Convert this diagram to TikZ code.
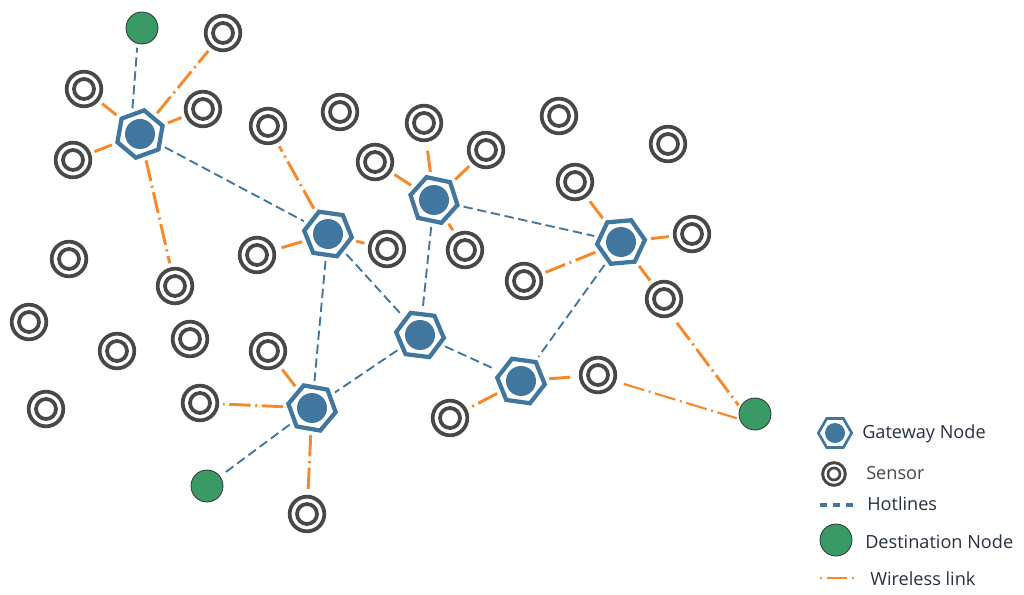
\documentclass[tikz,border=0pt]{standalone}
\usepackage{fontspec}
\setmainfont{Open Sans}
\usetikzlibrary{shapes.geometric}
\definecolor{gwblue}{HTML}{41779F}
\definecolor{destgreen}{HTML}{3A9A66}
\definecolor{senscol}{HTML}{484848}
\definecolor{wlorange}{HTML}{F58A2A}
\definecolor{txtcol}{HTML}{263040}
\tikzset{
  x=0.75pt,y=-0.75pt,
  gatehex/.style={shape=regular polygon,regular polygon sides=6,draw=gwblue,line width=3.2pt,fill=white,inner sep=0pt,minimum size=36pt},
  gatedot/.style={shape=circle,fill=gwblue,inner sep=0pt,minimum size=22.5pt},
  sensorout/.style={shape=circle,draw=senscol,line width=2.8pt,fill=white,inner sep=0pt,minimum size=26pt},
  sensorin/.style={shape=circle,draw=senscol,line width=2.8pt,fill=white,inner sep=0pt,minimum size=15pt},
  destnode/.style={shape=circle,draw=black!80,line width=0.6pt,fill=destgreen,inner sep=0pt,minimum size=24pt},
  hotline/.style={draw=gwblue,line width=1.4pt,dash pattern=on 7pt off 3.5pt,shorten >=3pt,shorten <=3pt},
  wireless/.style={draw=wlorange,line width=2.2pt,dash pattern=on 16pt off 3.5pt on 1.5pt off 3.5pt,shorten >=3pt,shorten <=3pt},
  wirelessthin/.style={draw=wlorange,line width=1.6pt,dash pattern=on 16pt off 3.5pt on 1.5pt off 3.5pt,shorten >=2pt,shorten <=6pt},
  legtext/.style={anchor=west,inner sep=0pt,font=\fontsize{13.6pt}{16pt}\selectfont,text=txtcol},
}
\newcommand{\gatewaynode}[3]{\node[gatehex,rotate=#3] (#1) at #2 {};\node[gatedot] (#1c) at #2 {};}
\newcommand{\sensornode}[2]{\node[sensorout] (#1) at #2 {};\node[sensorin] (#1c) at #2 {};}
\begin{document}
\begin{tikzpicture}
\useasboundingbox (0,0) rectangle (1024,595);
% gateways
\gatewaynode{gA}{(140,134)}{20}
\gatewaynode{gB}{(328,234)}{-8}
\gatewaynode{gC}{(434,200)}{-12}
\gatewaynode{gD}{(621,242)}{5}
\gatewaynode{gE}{(420,335)}{-7}
\gatewaynode{gF}{(521,381)}{-8}
\gatewaynode{gG}{(312,408)}{-10}
% destinations
\node[destnode] (dA) at (142,28) {};
\node[destnode] (dB) at (755,414) {};
\node[destnode] (dC) at (207,486) {};
% sensors
\sensornode{s1}{(223,33)}
\sensornode{s2}{(84,89)}
\sensornode{s3}{(203,109)}
\sensornode{s4}{(73,160)}
\sensornode{s5}{(268,126)}
\sensornode{s6}{(340,112)}
\sensornode{s7}{(424,123)}
\sensornode{s8}{(486,150)}
\sensornode{s9}{(375,162)}
\sensornode{s10}{(559,116)}
\sensornode{s11}{(668,144)}
\sensornode{s12}{(575,182)}
\sensornode{s13}{(692,234)}
\sensornode{s14}{(465,250)}
\sensornode{s15}{(387,249)}
\sensornode{s16}{(257,255)}
\sensornode{s17}{(524,281)}
\sensornode{s18}{(664,299)}
\sensornode{s19}{(69,259)}
\sensornode{s20}{(175,286)}
\sensornode{s21}{(29,322)}
\sensornode{s22}{(117,351)}
\sensornode{s23}{(190,339)}
\sensornode{s24}{(268,351)}
\sensornode{s25}{(46,409)}
\sensornode{s26}{(200,403)}
\sensornode{s27}{(598,375)}
\sensornode{s28}{(450,418)}
\sensornode{s29}{(307,514)}
% hotlines
\draw[hotline] (gA.90) -- (dA.254);
\foreach \a/\b in {gA/gB,gB/gG,gB/gE,gC/gE,gC/gD,gD/gF,gE/gF,gE/gG,gG/dC}
  \draw[hotline] (\a) -- (\b);
% wireless links
\foreach \a/\b in {gA/s1,gA/s2,gA/s3,gA/s4,gA/s20,gB/s5,gB/s15,gB/s16,gC/s7,gC/s8,gC/s9,gC/s14,gD/s12,gD/s13,gD/s17,gD/s18,gF/s27,gF/s28,gG/s24,gG/s26,gG/s29}
  \draw[wireless] (\a) -- (\b);
\draw[wireless,shorten <=6pt,shorten >=2pt] (s18.-65) -- (dB.156);
\draw[wirelessthin] (s27.-20) -- (dB.198);
% legend
\node[gatehex,minimum size=25pt,line width=2pt,rotate=0] (lgG) at (835,433) {};
\node[gatedot,minimum size=15pt] (lgGc) at (835,433) {};
\node[legtext] (ltG) at (862,434) {Gateway Node};
\node[sensorout,minimum size=17pt,line width=2.2pt] (lgS) at (834,474) {};
\node[sensorin,minimum size=9pt,line width=2pt] (lgSc) at (834,474) {};
\node[legtext,text=senscol] (ltS) at (866,473) {Sensor};
\coordinate (lhA) at (820,505);
\coordinate (lhB) at (853,505);
\draw[draw=gwblue,line width=2.4pt,dash pattern=on 5.3pt off 4.5pt] (lhA) -- (lhB);
\node[legtext] (ltH) at (867,504) {Hotlines};
\node[destnode,minimum size=24pt] (lgD) at (836,540) {};
\node[legtext] (ltD) at (865,542) {Destination Node};
\coordinate (lwA) at (820,578);
\coordinate (lwB) at (854,578);
\draw[draw=wlorange,line width=2.2pt,dash pattern=on 1.2pt off 4pt on 15pt off 4pt on 1.2pt off 4pt] (lwA) -- (lwB);
\node[legtext] (ltW) at (870,579) {Wireless link};
\end{tikzpicture}
\end{document}
